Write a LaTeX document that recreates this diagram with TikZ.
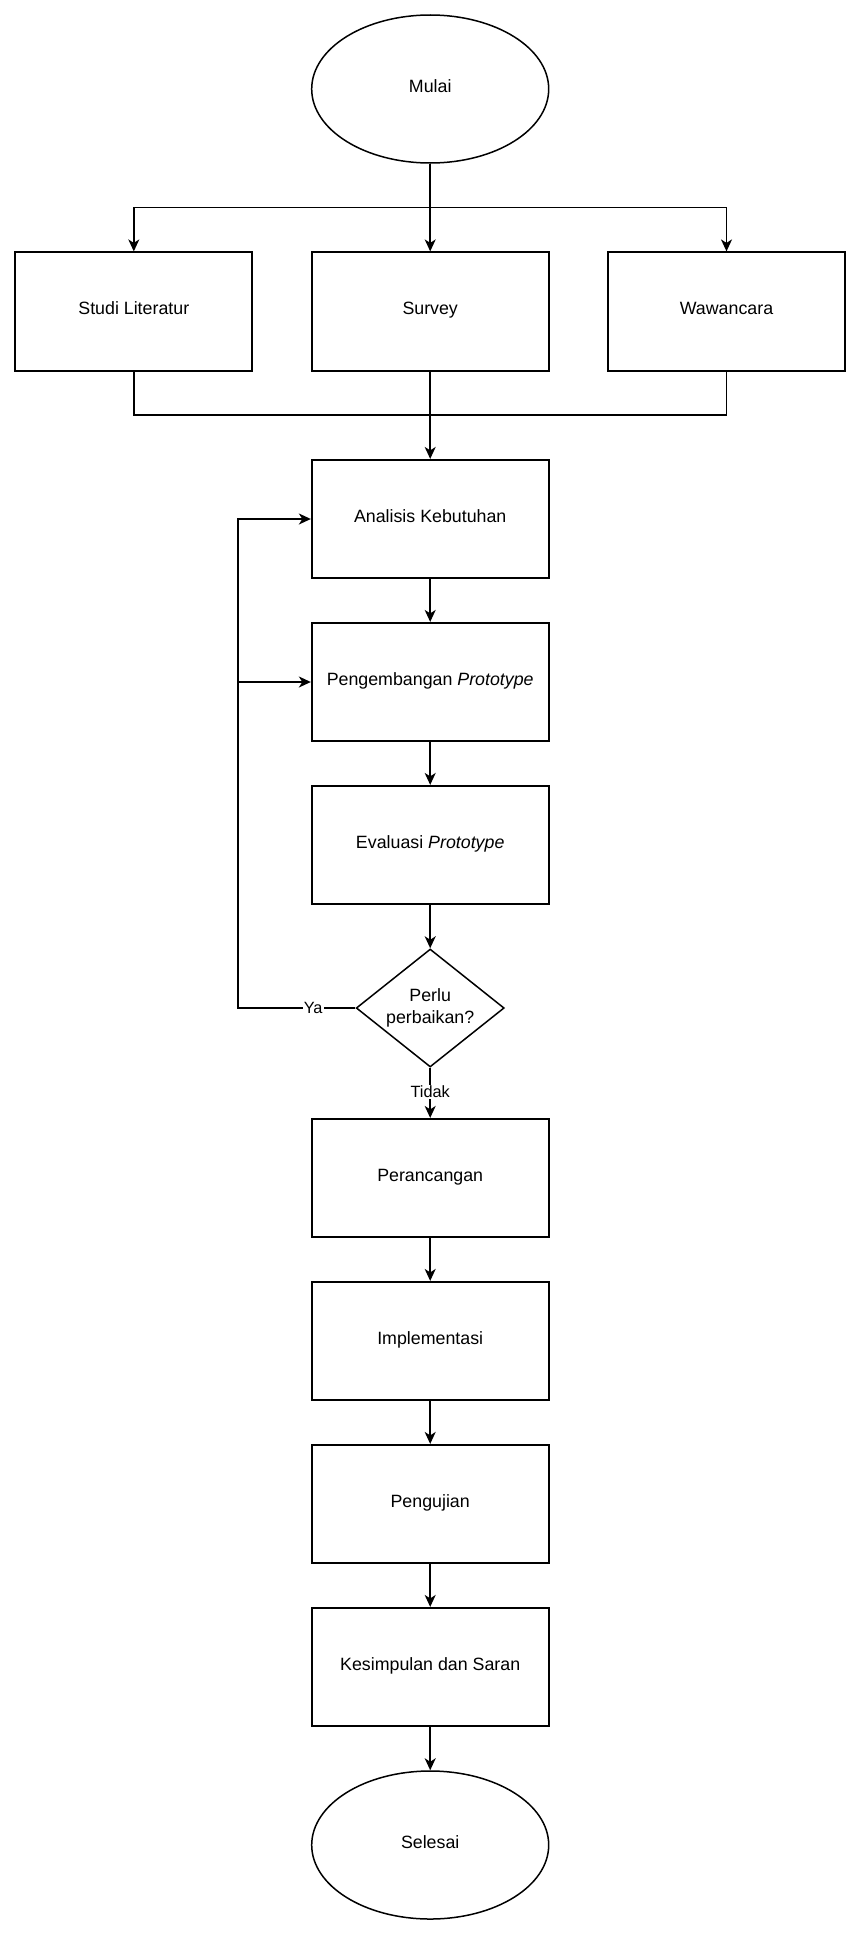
\documentclass[tikz,border=0pt]{standalone}
\usepackage{fontspec}
\setmainfont{Liberation Sans}
\usetikzlibrary{shapes.geometric,arrows.meta}
\begin{document}
\begin{tikzpicture}[x=1pt,y=-1pt,
  every node/.style={font=\fontsize{17.8}{22}\selectfont},
  stepbox/.style={draw,line width=1.7pt,rectangle,minimum width=237pt,minimum height=118.5pt,inner sep=0pt,align=center,text height=0.72em,text depth=0.04em},
  terminal/.style={draw,line width=1.5pt,ellipse,minimum width=237pt,minimum height=148pt,inner sep=0pt,text height=0.72em,text depth=0.04em},
  decision/.style={draw,line width=1.5pt,diamond,aspect=1.25,minimum width=148pt,minimum height=118pt,inner sep=0pt,align=center},
  conn/.style={line width=1.5pt},
  arr/.style={conn,-{Stealth[length=12pt,width=11pt,inset=3.5pt]}},
  edgelabel/.style={fill=white,inner sep=1pt,font=\fontsize{16.3}{19}\selectfont}
]
\useasboundingbox (0,0) rectangle (862,1935);

% start / end
\node[terminal] (mulai) at (430.2,89) {Mulai};
\node[terminal] (selesai) at (430.2,1845) {Selesai};

% data collection
\node[stepbox] (studi) at (133.8,311.5) {Studi Literatur};
\node[stepbox] (survey) at (430.2,311.5) {Survey};
\node[stepbox] (wawancara) at (726.5,311.5) {Wawancara};

% prototyping cycle
\node[stepbox] (analisis) at (430.2,519) {Analisis Kebutuhan};
\node[stepbox] (pengembangan) at (430.2,682) {Pengembangan \textit{Prototype}};
\node[stepbox] (evaluasi) at (430.2,845) {Evaluasi \textit{Prototype}};
\node[decision] (cek) at (430.2,1008) {Perlu\\perbaikan?};

% remaining steps
\node[stepbox] (perancangan) at (430.2,1178) {Perancangan};
\node[stepbox] (implementasi) at (430.2,1341) {Implementasi};
\node[stepbox] (pengujian) at (430.2,1504) {Pengujian};
\node[stepbox] (kesimpulan) at (430.2,1667) {Kesimpulan dan Saran};

% fan-out and merge points
\coordinate (split) at (430.2,207.5);
\coordinate (merge) at (430.2,415);
\coordinate (loopx) at (238,0);

\draw[conn] (mulai.south) -- (split);
\draw[arr] (split) -- (survey.north);
\draw[arr] (split) -| (studi.north);
\draw[arr] (split) -| (wawancara.north);

\draw[conn] (studi.south) |- (merge);
\draw[conn] (wawancara.south) |- (merge);
\draw[arr] (survey.south) -- (analisis.north);

\draw[arr] (analisis) -- (pengembangan);
\draw[arr] (pengembangan) -- (evaluasi);
\draw[arr] (evaluasi) -- (cek.north);

% feedback loop
\draw[arr] (cek.west) -- node[edgelabel,pos=0.36] {Ya} (loopx |- cek.west) |- (analisis.west);
\draw[arr] (loopx |- pengembangan.west) -- (pengembangan.west);

\draw[arr] (cek.south) -- node[edgelabel,pos=0.48] {Tidak} (perancangan.north);
\draw[arr] (perancangan) -- (implementasi);
\draw[arr] (implementasi) -- (pengujian);
\draw[arr] (pengujian) -- (kesimpulan);
\draw[arr] (kesimpulan) -- (selesai.north);
\end{tikzpicture}
\end{document}
